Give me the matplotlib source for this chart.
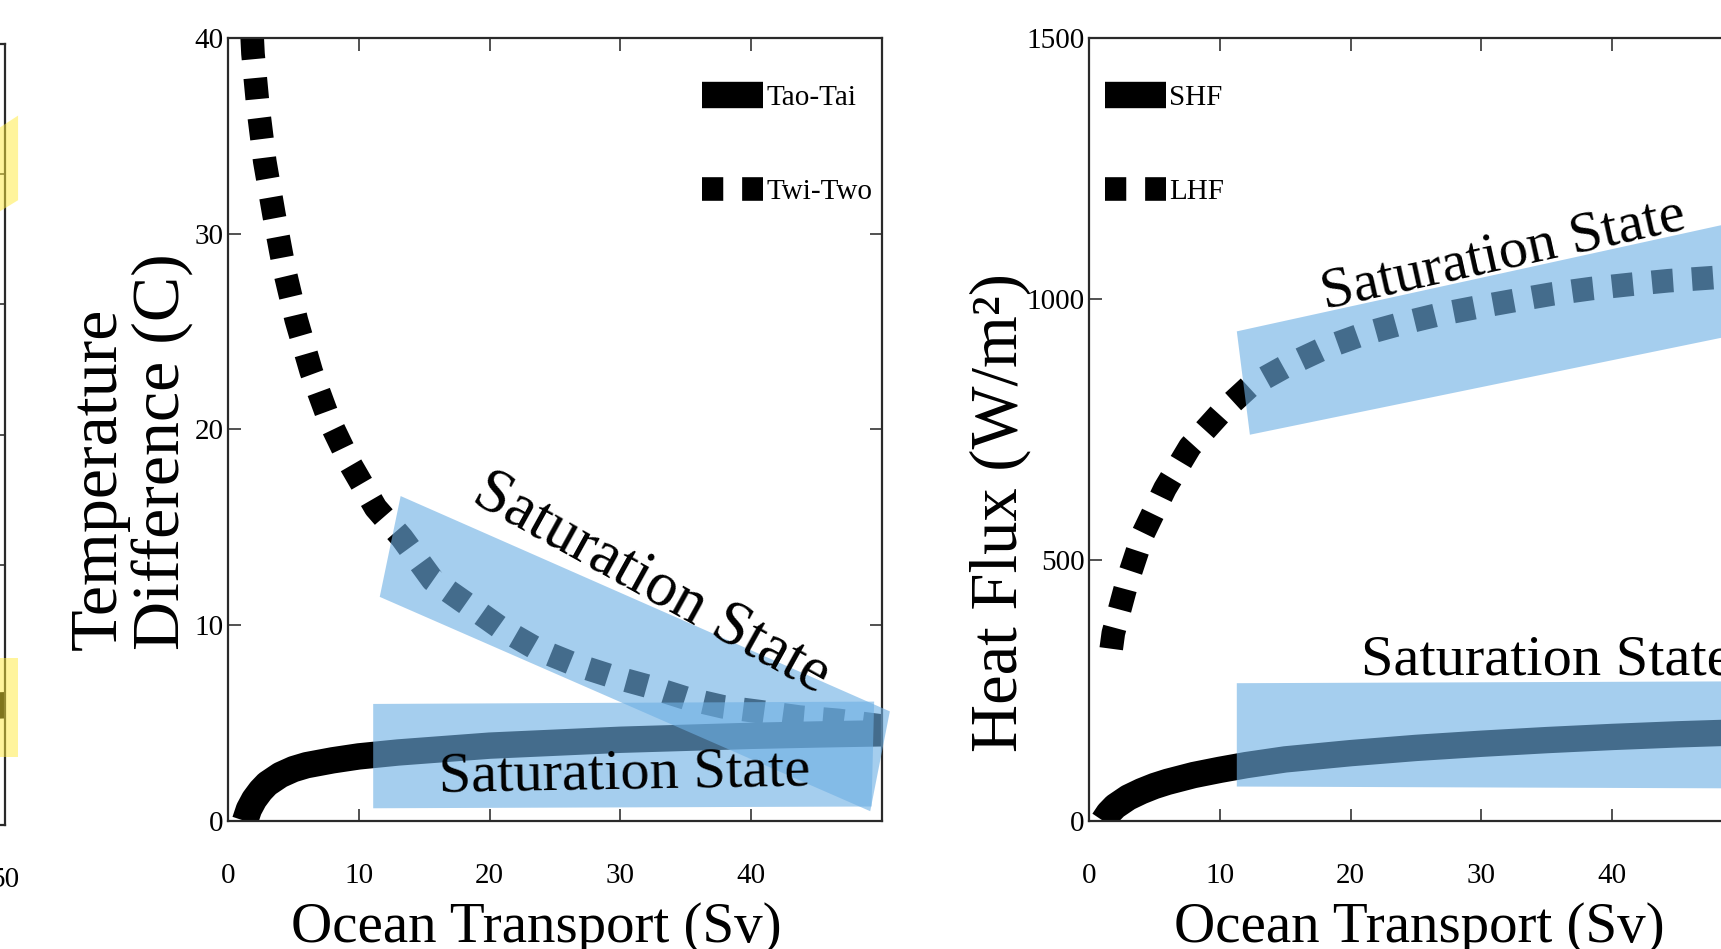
import matplotlib
matplotlib.use('Agg')
import matplotlib.pyplot as plt
from matplotlib.patches import Polygon

plt.rcParams['font.family'] = ['Liberation Serif', 'DejaVu Serif']

W, H = 1721, 949

# --- middle panel: temperature difference ---
tao_x = [1.3, 1.6, 2, 2.5, 3, 4, 5, 6, 8, 10, 13, 16, 20, 25, 30, 35, 40, 45, 50]
tao_y = [0, 0.6, 1.1, 1.55, 1.9, 2.35, 2.65, 2.85, 3.1, 3.3, 3.5, 3.65, 3.85, 4.0,
         4.15, 4.25, 4.35, 4.42, 4.48]
twi_x = [1.85, 1.91, 2.29, 2.81, 3.52, 4.28, 5.22, 6.37, 7.72, 9.38, 11.29, 13.3,
         15.65, 18.23, 20.95, 23.66, 26.5, 29.35, 32.19, 35.03, 37.87, 40.85,
         43.69, 46.67, 50]
twi_y = [40, 39.2, 36.5, 33.7, 30.96, 28.25, 25.6, 22.95, 20.5, 18.2, 16.0, 14.46,
         12.31, 11.1, 9.81, 8.77, 8.0, 7.39, 6.87, 6.27, 5.83, 5.57, 5.31, 5.14, 4.85]
temp_band_hi = [(13.2, 16.6), (11.6, 11.45), (49.1, 0.5), (50.6, 5.6)]
temp_band_lo = [(11.1, 5.98), (11.1, 0.65), (49.2, 0.74), (49.4, 6.1)]

# --- right panel: heat flux ---
shf_x = [1.1, 1.5, 2, 3, 4, 5, 6, 8, 10, 12, 15, 20, 25, 30, 35, 40, 45, 50]
shf_y = [0, 15, 28, 45, 57, 67, 75, 88, 98, 107, 118, 130, 140, 148, 155, 161, 166, 170]
lhf_x = [1.7, 1.86, 2.88, 4.15, 5.81, 7.72, 10.0, 12.3, 15.1, 18.0, 21.0, 23.9,
         26.7, 29.6, 32.5, 35.5, 38.4, 41.4, 44.3, 47.2, 50]
lhf_y = [330, 360, 455, 551, 637, 717, 780, 833, 872, 906, 933, 953, 970, 984,
         997, 1010, 1020, 1028, 1035, 1040, 1045]
flux_band_hi = [(11.3, 938), (12.3, 740), (55, 960), (55, 1178)]
flux_band_lo = [(11.3, 264), (11.3, 66), (55, 62), (55, 268)]

# --- left panel (only its right edge is in view) ---
left_x = [44, 50]
left_y = [9.0, 9.2]
left_band_hi = [(38, 40), (38, 46), (51, 54.5), (51, 48)]
left_band_lo = [(38, 5.2), (38, 12.8), (51, 12.8), (51, 5.2)]

x_ticks = [0, 10, 20, 30, 40]
band_col = '#6fb0e4'
label = 'Saturation State'
dots = (0, (0.9, 0.8))


def box(l, r, t, b):
    return [l / W, 1 - b / H, (r - l) / W, (b - t) / H]


def style(ax):
    for s in ax.spines.values():
        s.set_color('#2a2a2a')
        s.set_linewidth(1.6)
    ax.tick_params(direction='in', length=9, width=1.2, top=True, right=True,
                   labelsize=21, colors='#333333', labelcolor='black')
    ax.tick_params(axis='x', pad=30)
    ax.tick_params(axis='y', pad=3)


def legend(ax, x0):
    ax.legend(loc='upper left', bbox_to_anchor=(x0, 0.94), frameon=False,
              fontsize=21, handlelength=2.1, handletextpad=0.1,
              labelspacing=2.3, borderpad=0, borderaxespad=0)


fig = plt.figure(figsize=(W / 100, H / 100), dpi=100)

# left panel
axl = fig.add_axes(box(-649, 5, 44, 825))
axl.plot(left_x, left_y, color='k', lw=19, solid_capstyle='butt')
for pts in (left_band_hi, left_band_lo):
    axl.add_patch(Polygon(pts, closed=True, fc='#ffeb3b', ec='none', alpha=0.5,
                          zorder=3, clip_on=False))
axl.set_xlim(0, 50)
axl.set_ylim(0, 60)
axl.set_xticks([10, 20, 30, 40, 50], ['', '', '', '', '50'])
axl.set_yticks([10, 20, 30, 40, 50], [])
style(axl)

# middle panel
ax = fig.add_axes(box(228, 882, 38, 821))
ax.plot(tao_x, tao_y, color='k', lw=19, solid_capstyle='butt', label='Tao-Tai')
ax.plot(twi_x, twi_y, color='k', lw=17, ls=dots, label='Twi-Two')
for pts in (temp_band_hi, temp_band_lo):
    ax.add_patch(Polygon(pts, closed=True, fc=band_col, ec='none', alpha=0.62,
                         zorder=3, clip_on=False))
ax.text(32.4, 12.1, label, rotation=-29, rotation_mode='anchor', ha='center',
        va='center', fontsize=45, zorder=4)
ax.text(16.1, 1.5, label, rotation=1, rotation_mode='anchor', ha='left',
        va='baseline', fontsize=42, zorder=4)
ax.set_xlim(0, 50)
ax.set_ylim(0, 40)
ax.set_xticks(x_ticks)
ax.set_yticks([0, 10, 20, 30, 40])
style(ax)
legend(ax, 0.725)

# right panel
axr = fig.add_axes(box(1089, 1743, 38, 821))
axr.plot(shf_x, shf_y, color='k', lw=19, solid_capstyle='butt', label='SHF')
axr.plot(lhf_x, lhf_y, color='k', lw=17, ls=dots, label='LHF')
for pts in (flux_band_hi, flux_band_lo):
    axr.add_patch(Polygon(pts, closed=True, fc=band_col, ec='none', alpha=0.62,
                          zorder=3, clip_on=False))
axr.text(31.7, 1085, label, rotation=12.5, rotation_mode='anchor', ha='center',
         va='center', fontsize=42, zorder=4)
axr.text(20.8, 280, label, ha='left', va='baseline', fontsize=42, zorder=4)
axr.set_xlim(0, 50)
axr.set_ylim(0, 1500)
axr.set_xticks(x_ticks)
axr.set_yticks([0, 500, 1000, 1500])
style(axr)
legend(axr, 0.0245)

# axis titles
fig.text(131 / W, 1 - 650 / H, 'Temperature\nDifference (C)', rotation=90,
         ha='center', va='bottom', multialignment='left', fontsize=49,
         linespacing=1.05)
fig.text(1000 / W, 1 - 752 / H, 'Heat Flux (W/m²)', rotation=90, ha='center',
         va='bottom', fontsize=48)
fig.text(536 / W, 1 - 902 / H, 'Ocean Transport (Sv)', ha='center', va='top',
         fontsize=41)
fig.text(1419 / W, 1 - 902 / H, 'Ocean Transport (Sv)', ha='center', va='top',
         fontsize=41)

fig.savefig('out.png', dpi=100)
